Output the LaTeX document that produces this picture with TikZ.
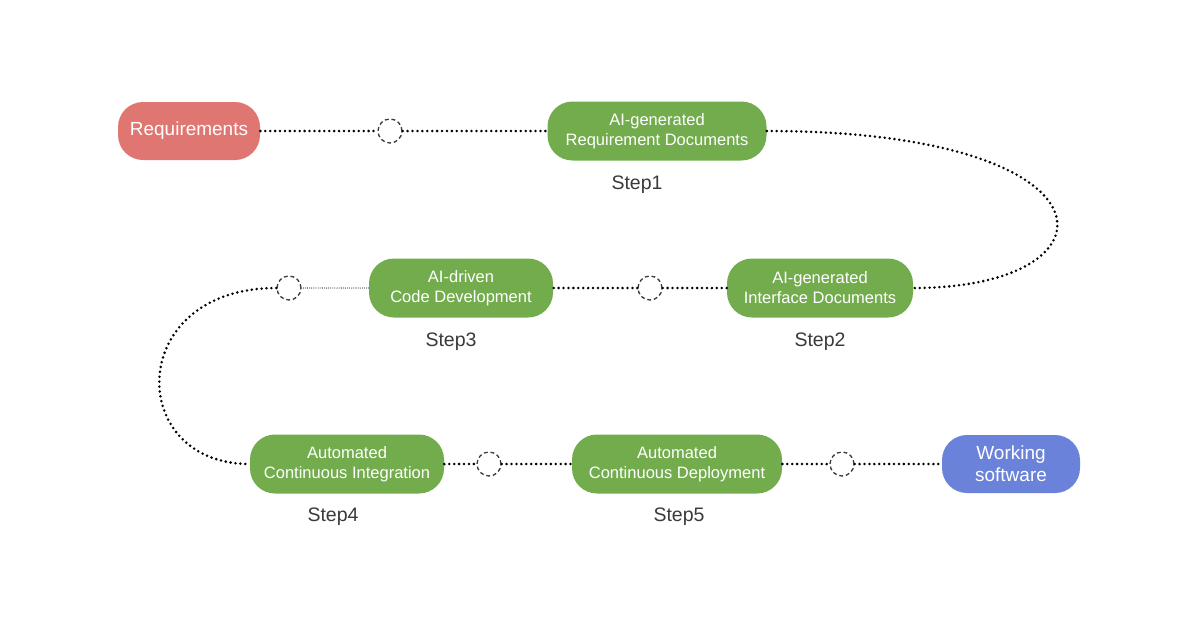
\documentclass[tikz,border=0pt]{standalone}
\usepackage{fontspec}
\setmainfont{Liberation Sans}
\usetikzlibrary{positioning}
\definecolor{pipegreen}{HTML}{72AC4D}
\definecolor{pipered}{HTML}{E07672}
\definecolor{pipeblue}{HTML}{6A82D9}
\definecolor{pipegray}{HTML}{3A3A3A}
\definecolor{holegray}{HTML}{3A3A3A}

\begin{document}
\begin{tikzpicture}[
  stepbox/.style={rectangle, rounded corners=0.5cm, minimum height=1.18cm, align=center, fill=pipegreen, text=white, font=\fontsize{9.4}{11.4}\selectfont},
  endbox/.style={rectangle, rounded corners=0.5cm, minimum height=1.16cm, align=center, text=white, font=\fontsize{10.8}{12.5}\selectfont},
  stepnum/.style={text=pipegray, font=\fontsize{11.1}{13}\selectfont},
  hole/.style={circle, minimum size=0.48cm, inner sep=0pt, draw=holegray, fill=white, line width=0.75pt, dash pattern=on 2.2pt off 1.6pt},
  link/.style={line width=1.6pt, line cap=round, dash pattern=on 0pt off 2.8pt},
  thinlink/.style={line width=0.6pt, line cap=round, dash pattern=on 0pt off 1.2pt},
]
\useasboundingbox (0,0) rectangle (24,-12.6);

% boxes
\node[endbox, fill=pipered, minimum width=2.84cm] (req) at (3.78, -2.62) {Requirements};
\node[stepbox, minimum width=4.38cm] (reqdoc) at (13.14, -2.62) {AI-generated\\Requirement Documents};
\node[stepbox, minimum width=3.72cm] (ifdoc) at (16.40, -5.76) {AI-generated\\Interface Documents};
\node[stepbox, minimum width=3.68cm] (codedev) at (9.22, -5.76) {AI-driven\\Code Development};
\node[stepbox, minimum width=3.88cm] (ci) at (6.94, -9.28) {Automated\\Continuous Integration};
\node[stepbox, minimum width=4.20cm] (cd) at (13.54, -9.28) {Automated\\Continuous Deployment};
\node[endbox, fill=pipeblue, minimum width=2.76cm] (ws) at (20.22, -9.28) {Working\\software};

% step labels
\node[stepnum] (st1) at (12.74, -3.70) {Step1};
\node[stepnum] (st2) at (16.40, -6.84) {Step2};
\node[stepnum] (st3) at (9.02, -6.84) {Step3};
\node[stepnum] (st4) at (6.66, -10.34) {Step4};
\node[stepnum] (st5) at (13.58, -10.34) {Step5};

% checkpoints
\node[hole] (h1) at (7.80, -2.62) {};
\node[hole] (h2) at (13.00, -5.76) {};
\node[hole] (h3) at (5.78, -5.76) {};
\node[hole] (h4) at (9.78, -9.28) {};
\node[hole] (h5) at (16.84, -9.28) {};

% path
\draw[link] (req) -- (h1);
\draw[link] (h1) -- (reqdoc);
\draw[link] (reqdoc.east) .. controls (22.5, -2.62) and (22.5, -5.76) .. (ifdoc.east);
\draw[link] (ifdoc) -- (h2);
\draw[link] (h2) -- (codedev);
\draw[thinlink] (codedev) -- (h3);
\draw[link] (h3.west) .. controls (2.5, -5.76) and (2.5, -9.28) .. (ci.west);
\draw[link] (ci) -- (h4);
\draw[link] (h4) -- (cd);
\draw[link] (cd) -- (h5);
\draw[link] (h5) -- (ws);
\end{tikzpicture}
\end{document}
